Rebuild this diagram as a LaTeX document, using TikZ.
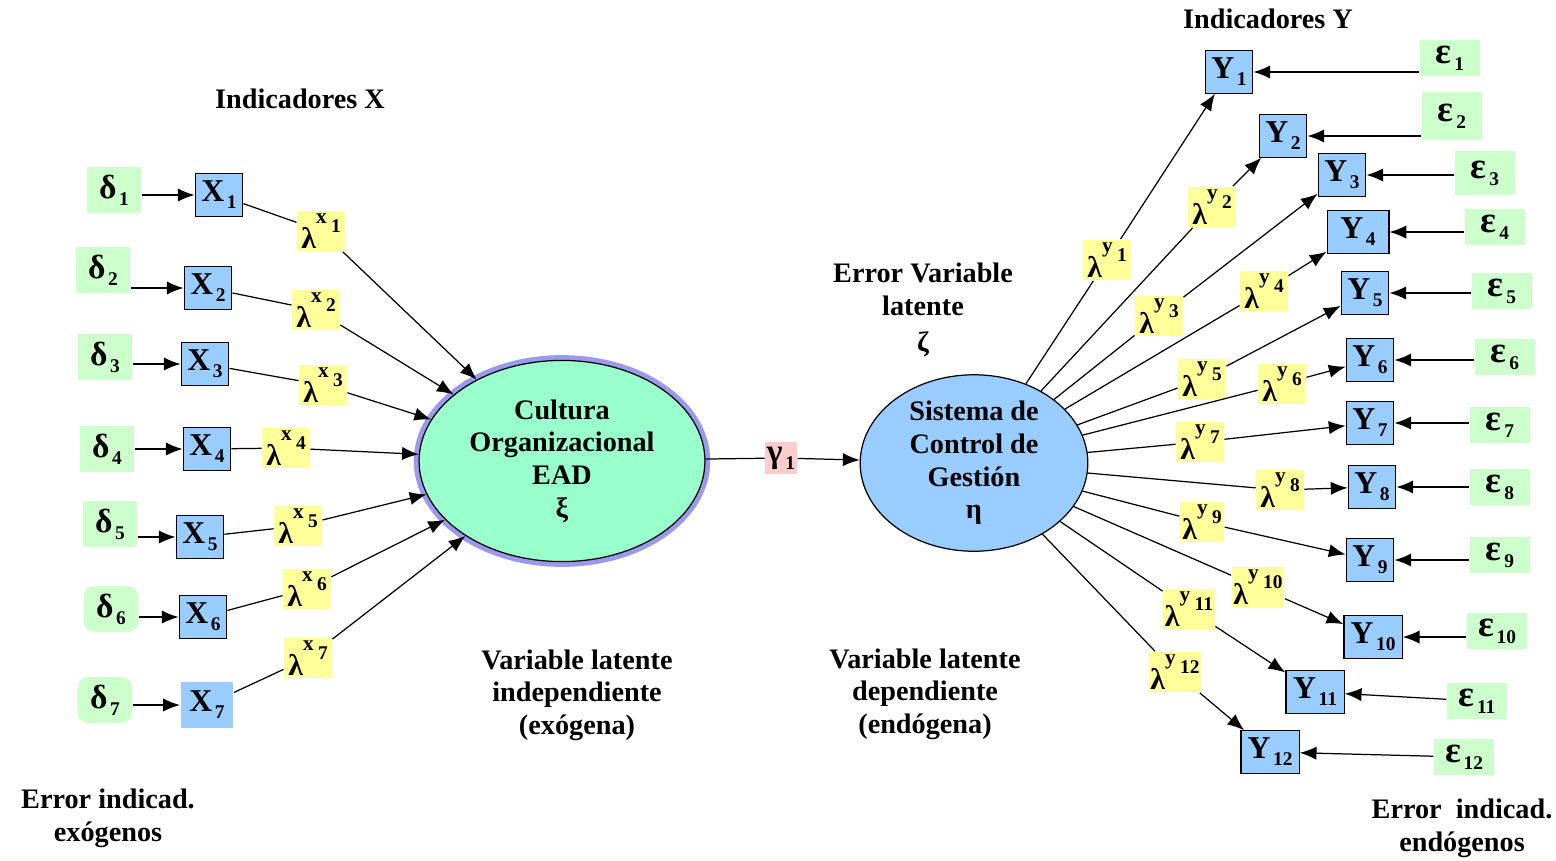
\documentclass[tikz,border=0pt]{standalone}
\usepackage{fontspec}
\setmainfont{Liberation Serif}
\usetikzlibrary{shapes,arrows.meta,positioning}
\definecolor{boxblue}{HTML}{99CCFF}
\definecolor{errgreen}{HTML}{CCFFCC}
\definecolor{loadyellow}{HTML}{FFFF99}
\definecolor{gampink}{HTML}{FFCCCC}
\definecolor{xifill}{HTML}{99FFCC}
\definecolor{xiring}{HTML}{9999EE}
% symbol with lowered index, loading with raised indices
\newcommand{\idx}[2]{#1\hspace{1.5pt}\raisebox{-4pt}{\fontsize{11}{11}\selectfont #2}}
\newcommand{\lam}[2]{λ\raisebox{14pt}{\fontsize{12}{12}\selectfont #1}\hspace{2.5pt}\raisebox{9pt}{\fontsize{11}{11}\selectfont #2}}
\tikzset{
	indic/.style = {draw, fill=boxblue, rectangle, minimum width=27pt, minimum height=24pt, inner sep=1pt, font=\fontsize{18}{18}\selectfont\bfseries},
	errbox/.style = {fill=errgreen, rectangle, minimum width=31pt, minimum height=26pt, inner sep=1pt, font=\fontsize{19}{19}\selectfont\bfseries},
	epsbox/.style = {fill=errgreen, rectangle, minimum width=34pt, minimum height=20pt, inner sep=1pt, font=\fontsize{21}{21}\selectfont\bfseries},
	load/.style = {fill=loadyellow, rectangle, minimum width=27pt, minimum height=23pt, inner sep=1pt, font=\fontsize{17}{17}\selectfont\bfseries},
	latent/.style = {draw, ellipse, inner sep=0pt, align=center, font=\fontsize{16}{18.5}\selectfont\bfseries},
	note/.style = {align=center, font=\fontsize{16}{18.5}\selectfont\bfseries}
}
\begin{document}
\begin{tikzpicture}[x=0.5667pt, y=-0.5667pt, line width=0.7pt, >={Latex[length=9.5pt,width=7.5pt]}]
    \useasboundingbox (0,0) rectangle (1556,860);
    % latent variables
    \node [latent, fill=xifill, minimum width=162pt, minimum height=114pt,
        preaction={draw=xiring, line width=6pt}] (xi) at (562,461) {Cultura\\Organizacional\\EAD\\ξ};
    \node [latent, fill=boxblue, minimum width=129pt, minimum height=100pt] (eta) at (974,463) {Sistema de\\Control de\\Gestión\\η};
    \node [fill=gampink, inner sep=1pt, minimum size=18pt, font=\fontsize{19}{19}\selectfont\bfseries] (gam) at (781,458) {\idx{γ}{1}};

    % exogenous side
    \node [errbox] (d1) at (114,190) {\idx{δ}{1}};
    \node [errbox] (d2) at (103,270) {\idx{δ}{2}};
    \node [errbox] (d3) at (105,357) {\idx{δ}{3}};
    \node [errbox] (d4) at (107,449) {\idx{δ}{4}};
    \node [errbox] (d5) at (110,524) {\idx{δ}{5}};
    \node [errbox, rounded corners=6pt] (d6) at (111,609) {\idx{δ}{6}};
    \node [errbox, rounded corners=6pt] (d7) at (105,700) {\idx{δ}{7}};
    \node [indic] (x1) at (219,195) {\idx{X}{1}};
    \node [indic] (x2) at (208,288) {\idx{X}{2}};
    \node [indic] (x3) at (205,364) {\idx{X}{3}};
    \node [indic] (x4) at (207,449) {\idx{X}{4}};
    \node [indic] (x5) at (200,537) {\idx{X}{5}};
    \node [indic] (x6) at (203,617) {\idx{X}{6}};
    \node [indic, draw=none, minimum width=30pt, minimum height=26pt] (x7) at (207,705) {\idx{X}{7}};
    \node [load] (lx1) at (321,231) {\lam{x}{1}};
    \node [load] (lx2) at (316,310) {\lam{x}{2}};
    \node [load] (lx3) at (323,385) {\lam{x}{3}};
    \node [load] (lx4) at (286,448) {\lam{x}{4}};
    \node [load] (lx5) at (298,526) {\lam{x}{5}};
    \node [load] (lx6) at (307,589) {\lam{x}{6}};
    \node [load] (lx7) at (308,658) {\lam{x}{7}};

    % endogenous side
    \node [indic] (y1) at (1229,72) {\idx{Y}{1}};
    \node [indic] (y2) at (1283,136) {\idx{Y}{2}};
    \node [indic] (y3) at (1342,175) {\idx{Y}{3}};
    \node [indic, minimum width=35pt] (y4) at (1358,232) {\idx{Y}{4}};
    \node [indic] (y5) at (1365,293) {\idx{Y}{5}};
    \node [indic] (y6) at (1370,360) {\idx{Y}{6}};
    \node [indic] (y7) at (1370,423) {\idx{Y}{7}};
    \node [indic] (y8) at (1372,487) {\idx{Y}{8}};
    \node [indic] (y9) at (1370,560) {\idx{Y}{9}};
    \node [indic, minimum width=33pt] (y10) at (1373,637) {\idx{Y}{10}};
    \node [indic, minimum width=33pt] (y11) at (1315,692) {\idx{Y}{11}};
    \node [indic, minimum width=33pt] (y12) at (1270,752) {\idx{Y}{12}};
    \node [epsbox] (e1) at (1450,58) {\idx{ε}{1}};
    \node [epsbox, minimum height=27pt] (e2) at (1452,116) {\idx{ε}{2}};
    \node [epsbox, minimum height=25pt] (e3) at (1485,173) {\idx{ε}{3}};
    \node [epsbox] (e4) at (1495,227) {\idx{ε}{4}};
    \node [epsbox] (e5) at (1502,291) {\idx{ε}{5}};
    \node [epsbox] (e6) at (1505,357) {\idx{ε}{6}};
    \node [epsbox] (e7) at (1500,425) {\idx{ε}{7}};
    \node [epsbox] (e8) at (1500,487) {\idx{ε}{8}};
    \node [epsbox] (e9) at (1500,555) {\idx{ε}{9}};
    \node [epsbox] (e10) at (1497,631) {\idx{ε}{10}};
    \node [epsbox] (e11) at (1477,701) {\idx{ε}{11}};
    \node [epsbox] (e12) at (1464,757) {\idx{ε}{12}};
    \node [load] (ly1) at (1107,260) {\lam{y}{1}};
    \node [load] (ly2) at (1212,207) {\lam{y}{2}};
    \node [load] (ly3) at (1159,316) {\lam{y}{3}};
    \node [load] (ly4) at (1264,291) {\lam{y}{4}};
    \node [load] (ly5) at (1202,379) {\lam{y}{5}};
    \node [load] (ly6) at (1282,384) {\lam{y}{6}};
    \node [load] (ly7) at (1200,442) {\lam{y}{7}};
    \node [load] (ly8) at (1280,490) {\lam{y}{8}};
    \node [load, minimum width=25pt] (ly9) at (1202,522) {\lam{y}{9}};
    \node [load] (ly10) at (1258,587) {\lam{y}{10}};
    \node [load] (ly11) at (1189,609) {\lam{y}{11}};
    \node [load] (ly12) at (1175,672) {\lam{y}{12}};

    % texts
    \node [note] (indx) at (300,99) {Indicadores X};
    \node [note] (indy) at (1268,19) {Indicadores Y};
    \node [note] (zeta) at (923,310) {Error Variable\\latente\\[2pt]ζ};
    \node [note] (indep) at (577,695) {Variable latente\\independiente\\(exógena)};
    \node [note] (dep) at (925,694) {Variable latente\\dependiente\\(endógena)};
    \node [note] (errx) at (108,818) {Error indicad.\\exógenos};
    \node [note] (erry) at (1462,828) {Error~ indicad.\\endógenos};

    % connectors
    \draw (xi) -- (gam);
    \draw [->] (gam) -- (eta);
    \draw [->] (x1.west -| d1.east) -- (x1.west);
    \draw [->] (x2.west -| d2.east) -- (x2.west);
    \draw [->] (x3.west -| d3.east) -- (x3.west);
    \draw [->] (x4.west -| d4.east) -- (x4.west);
    \draw [->] (x5.west -| d5.east) -- (x5.west);
    \draw [->] (x6.west -| d6.east) -- (x6.west);
    \draw [->] (x7.west -| d7.east) -- (x7.west);
    \draw (x1) -- (lx1); \draw [->] (lx1) -- (xi);
    \draw (x2) -- (lx2); \draw [->] (lx2) -- (xi);
    \draw (x3) -- (lx3); \draw [->] (lx3) -- (xi);
    \draw (x4) -- (lx4); \draw [->] (lx4) -- (xi);
    \draw (x5) -- (lx5); \draw [->] (lx5) -- (xi);
    \draw (x6) -- (lx6); \draw [->] (lx6) -- (xi);
    \draw (x7) -- (lx7); \draw [->] (lx7) -- (xi);
    \draw (eta) -- (ly1); \draw [->] (ly1) -- (y1);
    \draw (eta) -- (ly2); \draw [->] (ly2) -- (y2);
    \draw (eta) -- (ly3); \draw [->] (ly3) -- (y3);
    \draw (eta) -- (ly4); \draw [->] (ly4) -- (y4);
    \draw (eta) -- (ly5); \draw [->] (ly5) -- (y5);
    \draw (eta) -- (ly6); \draw [->] (ly6) -- (y6);
    \draw (eta) -- (ly7); \draw [->] (ly7) -- (y7);
    \draw (eta) -- (ly8); \draw [->] (ly8) -- (y8);
    \draw (eta) -- (ly9); \draw [->] (ly9) -- (y9);
    \draw (eta) -- (ly10); \draw [->] (ly10) -- (y10);
    \draw (eta) -- (ly11); \draw [->] (ly11) -- (y11);
    \draw (eta) -- (ly12); \draw [->] (ly12) -- (y12);
    \draw [->] (y1.east -| e1.west) -- (y1.east);
    \draw [->] (y2.east -| e2.west) -- (y2.east);
    \draw [->] (y3.east -| e3.west) -- (y3.east);
    \draw [->] (y4.east -| e4.west) -- (y4.east);
    \draw [->] (y5.east -| e5.west) -- (y5.east);
    \draw [->] (y6.east -| e6.west) -- (y6.east);
    \draw [->] (y7.east -| e7.west) -- (y7.east);
    \draw [->] (y8.east -| e8.west) -- (y8.east);
    \draw [->] (y9.east -| e9.west) -- (y9.east);
    \draw [->] (y10.east -| e10.west) -- (y10.east);
    \draw [->] (e11) -- (y11);
    \draw [->] (e12) -- (y12);
\end{tikzpicture}
\end{document}
